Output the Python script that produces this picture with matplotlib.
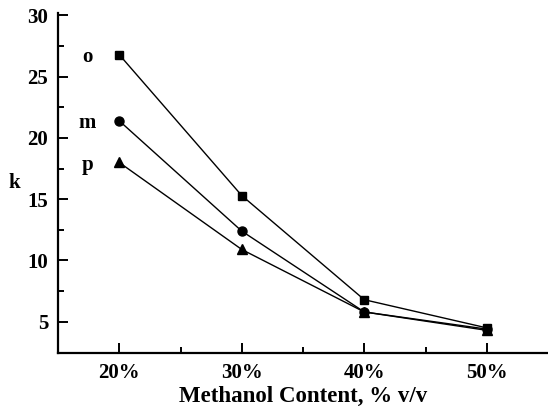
import matplotlib
matplotlib.use('Agg')
from matplotlib import pyplot as plt
from matplotlib.ticker import FixedLocator

# methanol content (%) and retention factor k per isomer
methanol = [20, 30, 40, 50]
k_ortho = [26.8, 15.3, 6.8, 4.5]
k_meta = [21.4, 12.4, 5.8, 4.4]
k_para = [18.0, 10.9, 5.8, 4.3]
xtick_labels = ['20%', '30%', '40%', '50%']

plt.rcParams['font.family'] = ['Liberation Serif', 'DejaVu Serif']
plt.rcParams['font.weight'] = 'bold'

fig = plt.figure(figsize=(5.48, 4.09), dpi=100)
ax = fig.add_axes([58 / 548, 1 - 353 / 409, 490 / 548, (353 - 13) / 409])

style = dict(color='black', lw=1.0)
ax.plot(methanol, k_ortho, marker='s', ms=6, **style)
ax.plot(methanol, k_meta, marker='o', ms=6.5, **style)
ax.plot(methanol, k_para, marker='^', ms=7, **style)

# series labels next to first points
for lab, y in zip(['o', 'm', 'p'], [k_ortho[0], k_meta[0], k_para[0]]):
    ax.text(17.4, y - 0.2, lab, ha='center', va='center',
            fontsize=15, fontweight='bold')

ax.set_xlim(15, 55)
ax.set_ylim(2.45, 30.2)
ax.xaxis.set_major_locator(FixedLocator(methanol))
ax.set_xticklabels(xtick_labels)
ax.xaxis.set_minor_locator(FixedLocator([25, 35, 45]))
ax.yaxis.set_major_locator(FixedLocator([5, 10, 15, 20, 25, 30]))
ax.yaxis.set_minor_locator(FixedLocator([7.5, 12.5, 17.5, 22.5, 27.5]))

ax.spines['top'].set_visible(False)
ax.spines['right'].set_visible(False)
ax.spines['left'].set_linewidth(1.6)
ax.spines['bottom'].set_linewidth(1.6)
ax.tick_params(which='major', direction='in', length=7, width=1.4,
               labelsize=15, pad=7)
ax.tick_params(which='minor', direction='in', length=4, width=1.4)
for t in ax.get_xticklabels() + ax.get_yticklabels():
    t.set_fontweight('bold')

ax.set_xlabel('Methanol Content, % v/v', fontsize=16.5, fontweight='bold',
              labelpad=2)
fig.text(14 / 548, 1 - 183 / 409, 'k', fontsize=15, fontweight='bold',
         ha='center', va='center')

plt.savefig('out.png', dpi=100)
